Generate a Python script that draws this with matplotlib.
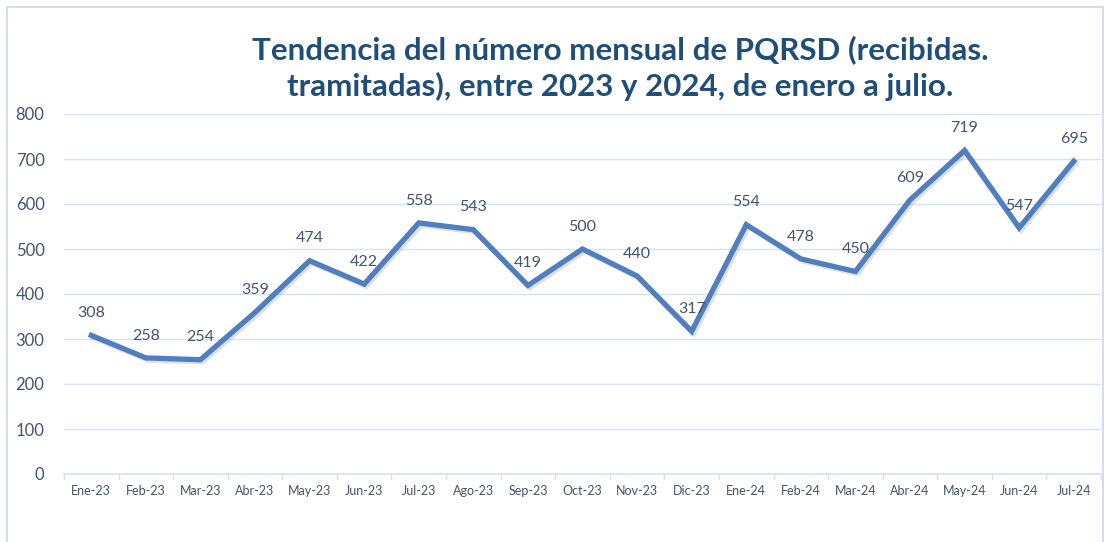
import matplotlib
matplotlib.use("Agg")
import matplotlib.pyplot as plt
import matplotlib.patheffects as pe
from matplotlib.patches import Rectangle

months = ["Ene-23", "Feb-23", "Mar-23", "Abr-23", "May-23", "Jun-23", "Jul-23",
          "Ago-23", "Sep-23", "Oct-23", "Nov-23", "Dic-23", "Ene-24", "Feb-24",
          "Mar-24", "Abr-24", "May-24", "Jun-24", "Jul-24"]
values = [308, 258, 254, 359, 474, 422, 558, 543, 419, 500, 440, 317, 554, 478,
          450, 609, 719, 547, 695]
yticks = [0, 100, 200, 300, 400, 500, 600, 700, 800]
title = "Tendencia del número mensual de PQRSD (recibidas.\ntramitadas), entre 2023 y 2024, de enero a julio."

plt.rcParams['font.family'] = ['Lato', 'DejaVu Sans']

W, H = 1110, 542
fig = plt.figure(figsize=(W / 100, H / 100), dpi=100)
fig.patch.set_facecolor("white")

# outer chart frame
fig.add_artist(Rectangle((7 / W, -0.05), (1103 - 7) / W, 1.05 - 7 / H,
                         transform=fig.transFigure, fill=False,
                         edgecolor="#C9D9EE", linewidth=1.2))

ax = fig.add_axes([64 / W, 1 - 474 / H, (1101 - 64) / W, (474 - 114) / H])
x = list(range(len(months)))
ax.plot(x, values, color="#4F7FBF", linewidth=3.8, solid_joinstyle="miter",
        path_effects=[pe.SimpleLineShadow(offset=(1.5, -1.5), alpha=0.25, shadow_color="gray"),
                      pe.Normal()], zorder=3)
for xi, v in zip(x, values):
    ax.annotate(str(v), (xi, v), xytext=(0, 11), textcoords="offset points",
                ha="center", va="bottom", fontsize=11.5, color="#44546A")

ax.set_xlim(-0.5, len(months) - 0.5)
ax.set_ylim(0, 800)
ax.set_yticks(yticks)
ax.set_xticks(x)
ax.set_xticklabels(months, fontsize=9, color="#44546A")
ax.tick_params(axis="y", length=0, labelsize=12, labelcolor="#44546A", pad=14)
ax.tick_params(axis="x", length=0, pad=8)
# category separators on x axis
for b in [i - 0.5 for i in range(len(months) + 1)]:
    ax.plot([b, b], [0, -10], color="#D6E1F1", linewidth=1, clip_on=False, zorder=1)
ax.grid(axis="y", color="#D6E3F3", linewidth=1)
ax.set_axisbelow(True)
for s in ["top", "right", "left"]:
    ax.spines[s].set_visible(False)
ax.spines["bottom"].set_color("#D6E1F1")
ax.spines["bottom"].set_linewidth(1.2)

fig.text(620 / W, 1 - 68 / H, title, ha="center", va="center", fontsize=22.5,
         fontweight="bold", color="#1F4E79", linespacing=1.35)

fig.savefig("out.png", dpi=100)
